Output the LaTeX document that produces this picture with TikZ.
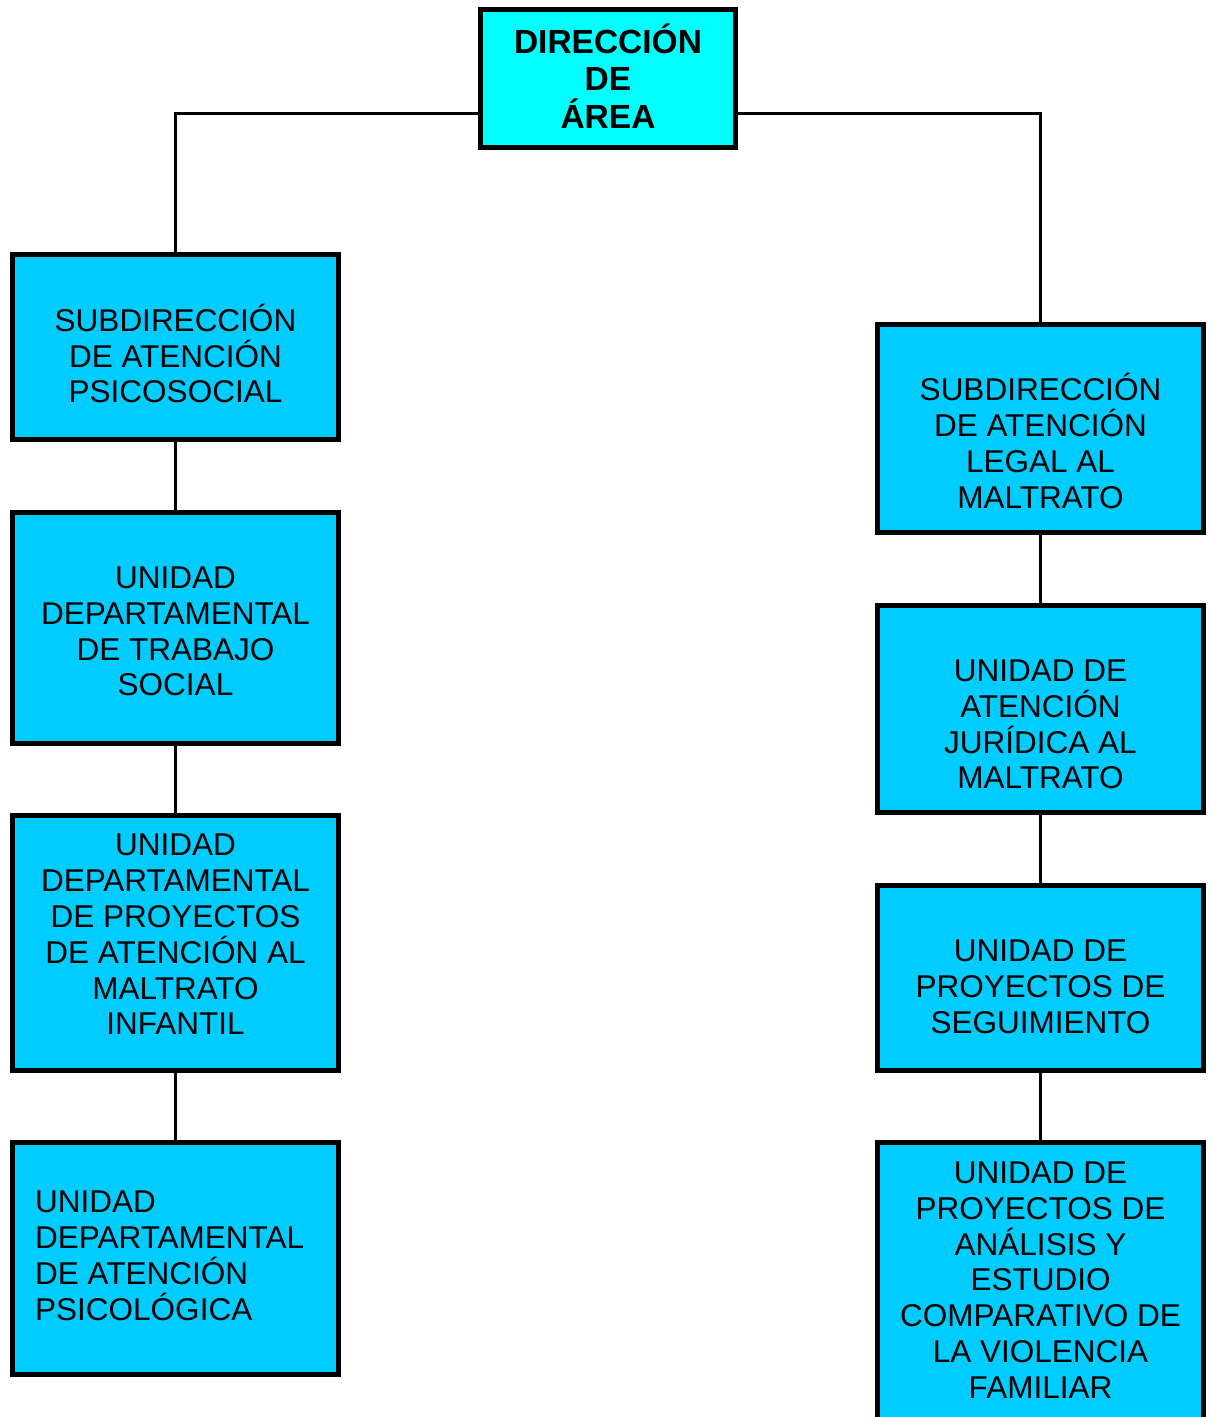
\documentclass[tikz,border=0pt]{standalone}
\usepackage{fontspec}
\setmainfont{Liberation Sans}
\definecolor{topcyan}{RGB}{0,255,255}
\definecolor{boxblue}{RGB}{0,204,255}
\begin{document}
\begin{tikzpicture}[x=1pt,y=-1pt,
  box/.style={draw=black, line width=5pt, fill=boxblue, inner sep=0pt, minimum width=326pt},
  lbl/.style={inner sep=0pt, align=center, font=\fontsize{31.5}{35.8}\selectfont},
  conn/.style={line width=3pt}]
\clip (0,0) rectangle (1209,1417);
\fill[white] (0,0) rectangle (1209,1417);
% boxes
\node[box, fill=topcyan, minimum width=255pt, minimum height=138pt] (top) at (608,78.5) {};
\node[box, minimum height=185pt] (l1) at (175.5,347) {};
\node[box, minimum height=231pt] (l2) at (175.5,628) {};
\node[box, minimum height=255pt] (l3) at (175.5,943) {};
\node[box, minimum height=232pt] (l4) at (175.5,1258.5) {};
\node[box, minimum height=208pt] (r1) at (1040.5,428.5) {};
\node[box, minimum height=207pt] (r2) at (1040.5,709) {};
\node[box, minimum height=185pt] (r3) at (1040.5,978) {};
\node[box, minimum height=295pt] (r4) at (1040.5,1290) {};
% texts
\node[lbl, font=\fontsize{33.5}{37.5}\selectfont\bfseries] (ttop) at (608,76) {DIRECCIÓN\\DE\\ÁREA};
\node[lbl] (tl1) at (175.5,353.5) {SUBDIRECCIÓN\\DE ATENCIÓN\\PSICOSOCIAL};
\node[lbl] (tl2) at (175.5,631.5) {UNIDAD\\DEPARTAMENTAL\\DE TRABAJO\\SOCIAL};
\node[lbl] (tl3) at (175.5,934.5) {UNIDAD\\DEPARTAMENTAL\\DE PROYECTOS\\DE ATENCIÓN AL\\MALTRATO\\INFANTIL};
\node[lbl, align=left, anchor=west] (tl4) at (35,1256) {UNIDAD\\DEPARTAMENTAL\\DE ATENCIÓN\\PSICOLÓGICA};
\node[lbl] (tr1) at (1040.5,441) {SUBDIRECCIÓN\\DE ATENCIÓN\\LEGAL AL\\MALTRATO};
\node[lbl] (tr2) at (1040.5,724.5) {UNIDAD DE\\ATENCIÓN\\JURÍDICA AL\\MALTRATO};
\node[lbl] (tr3) at (1040.5,987) {UNIDAD DE\\PROYECTOS DE\\SEGUIMIENTO};
\node[lbl] (tr4) at (1040.5,1280) {UNIDAD DE\\PROYECTOS DE\\ANÁLISIS Y\\ESTUDIO\\COMPARATIVO DE\\LA VIOLENCIA\\FAMILIAR};
% connectors
\draw[conn] ([yshift=-34.5pt]top.west) -| (l1.north);
\draw[conn] ([yshift=-34.5pt]top.east) -| (r1.north);
\draw[conn] (l1.south) -- (l2.north);
\draw[conn] (l2.south) -- (l3.north);
\draw[conn] (l3.south) -- (l4.north);
\draw[conn] (r1.south) -- (r2.north);
\draw[conn] (r2.south) -- (r3.north);
\draw[conn] (r3.south) -- (r4.north);
\end{tikzpicture}
\end{document}
